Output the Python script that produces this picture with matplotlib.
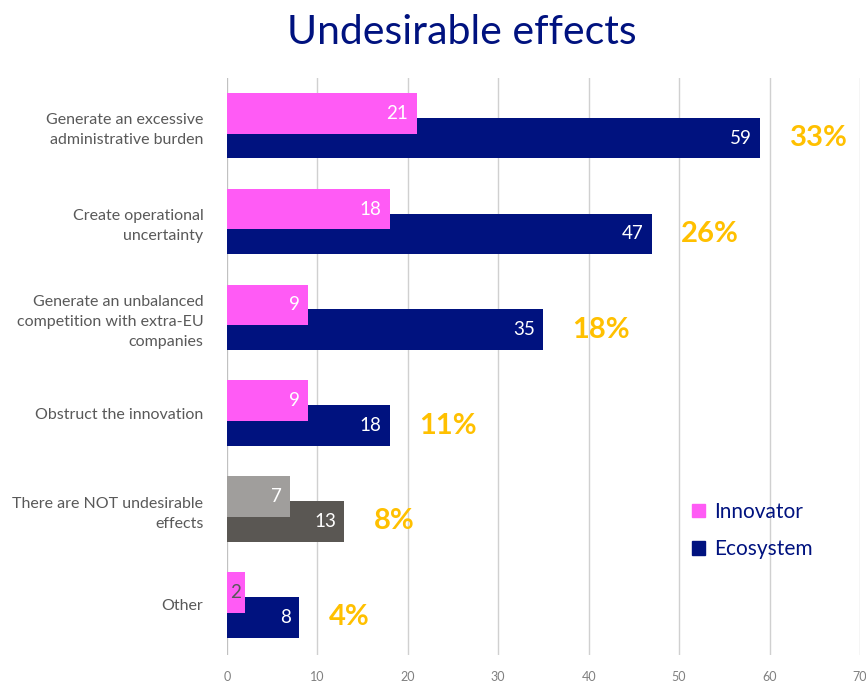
import numpy as np
import matplotlib.pyplot as plt
from matplotlib.patches import Patch

plt.rcParams['font.family'] = ['Lato', 'DejaVu Sans']

categories = [
    'Generate an excessive\nadministrative burden',
    'Create operational\nuncertainty',
    'Generate an unbalanced\ncompetition with extra-EU\ncompanies',
    'Obstruct the innovation',
    'There are NOT undesirable\neffects',
    'Other',
]
innovator = [21, 18, 9, 9, 7, 2]
ecosystem = [59, 47, 35, 18, 13, 8]
shares = ['33%', '26%', '18%', '11%', '8%', '4%']

PINK = '#FF5BF5'
NAVY = '#00127F'
GRAY_LIGHT = '#A09E9C'
GRAY_DARK = '#5A5753'
LABEL = '#595959'
GOLD = '#FFC000'

# the "no effects" row is shown in gray
inno_colors = [PINK] * 6
eco_colors = [NAVY] * 6
inno_colors[4] = GRAY_LIGHT
eco_colors[4] = GRAY_DARK

fig = plt.figure(figsize=(8.66, 6.82), dpi=100)
ax = fig.add_axes([0.262, 0.040, 0.731, 0.846])

y = np.arange(len(categories))
h = 0.425
off = 0.13

# ecosystem first so the innovator bars sit on top where they overlap
ax.barh(y + off, ecosystem, height=h, color=eco_colors, zorder=2)
ax.barh(y - off, innovator, height=h, color=inno_colors, zorder=3)

for i in range(len(categories)):
    ax.annotate(str(ecosystem[i]), (ecosystem[i], y[i] + off), xytext=(-6, 0),
                textcoords='offset points', ha='right', va='center',
                color='white', fontsize=13.5, zorder=4)
    col = LABEL if innovator[i] < 4 else 'white'
    ax.annotate(str(innovator[i]), (innovator[i], y[i] - off), xytext=(-3 if innovator[i] < 4 else -6, 0),
                textcoords='offset points', ha='right', va='center',
                color=col, fontsize=13.5, zorder=4)
    ax.annotate(shares[i], (ecosystem[i], y[i] + off), xytext=(21, 0),
                textcoords='offset points', ha='left', va='center',
                color=GOLD, fontsize=21, fontweight='bold', zorder=4)

ax.set_xlim(0, 70)
ax.set_ylim(5.52, -0.5)
ax.set_xticks(range(0, 71, 10))
ax.set_yticks(y)
ax.set_yticklabels(categories, color=LABEL, fontsize=11.5, linespacing=1.55)
ax.tick_params(axis='y', length=0, pad=17)
ax.tick_params(axis='x', length=0, pad=12, labelcolor='#808080', labelsize=9)
ax.grid(axis='x', color='#D0D0D0', linewidth=1, zorder=0)
ax.set_axisbelow(True)
for s in ax.spines.values():
    s.set_visible(False)
ax.axvline(0, color='#BFBFBF', linewidth=1.2, zorder=1)

fig.text(0.533, 0.953, 'Undesirable effects', ha='center', va='center',
         color=NAVY, fontsize=29.5)

handles = [Patch(color=PINK), Patch(color=NAVY)]
fig.legend(handles, ['Innovator', 'Ecosystem'], loc='center left',
           bbox_to_anchor=(0.778, 0.222), frameon=False, fontsize=15,
           labelcolor=NAVY, handlelength=0.6, handleheight=0.6,
           handletextpad=0.45, labelspacing=0.85)

fig.savefig('out.png', dpi=100)
